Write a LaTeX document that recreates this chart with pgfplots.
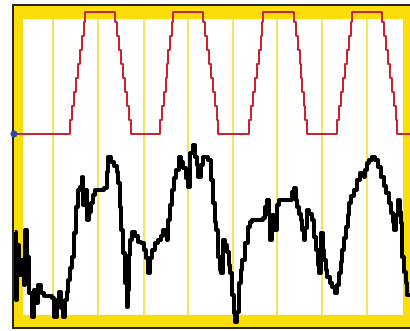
\documentclass[border=0pt]{standalone}
\usepackage{pgfplots}
\pgfplotsset{compat=1.18}
\definecolor{yel}{RGB}{250,222,10}
\definecolor{gridyel}{RGB}{245,228,95}
\definecolor{trred}{RGB}{205,34,44}
\definecolor{dotblue}{RGB}{40,70,170}
\begin{document}
\begin{tikzpicture}
\begin{axis}[at={(0,0)},anchor=south west, scale only axis, width=410pt, height=331pt,
  xmin=0,xmax=410,ymin=0,ymax=331, y dir=reverse, hide axis, clip=true, clip bounding box=upper bound]
\fill[white] (axis cs:0,0) rectangle (axis cs:410,331);
\pgfplotsinvokeforeach{53,98,144,188,233,277,322,367}{\draw[gridyel, line width=2pt] (axis cs:#1,6) -- (axis cs:#1,327);}
\fill[yel, even odd rule] (axis cs:13,5) rectangle (axis cs:415,328) (axis cs:23,19) rectangle (axis cs:403,315);
\draw[black!85, line width=1.5pt] (axis cs:415,5) -- (axis cs:13,5) -- (axis cs:13,328) -- (axis cs:415,328);
\addplot[trred, line width=2.8pt, const plot, line join=round] coordinates {
(14,134)(68,134)(70,120)(72,106)(74,92)(76,78)(78,64)(80,50)(82,36)(84,22)(85,12)(113,12)(115,22)(117,36)(119,50)(121,64)(123,78)(125,92)(127,106)(129,120)(131,134)(158,134)(160,120)(162,106)(164,92)(166,78)(167,64)(168,50)(170,36)(172,22)(173,12)(201,12)(203,22)(205,36)(207,50)(209,64)(211,78)(213,92)(215,106)(217,120)(218,134)(247,134)(249,120)(251,106)(253,92)(255,78)(257,64)(259,50)(261,36)(262,22)(263,12)(292,12)(294,22)(296,36)(298,50)(300,64)(301,78)(302,92)(304,106)(305,120)(307,134)(335,134)(337,120)(339,106)(341,92)(343,78)(345,64)(347,50)(349,36)(351,22)(352,12)(380,12)(382,22)(384,36)(386,50)(388,64)(390,78)(392,92)(394,106)(396,120)(397,134)(410,134)
};
\addplot[black, line width=3.3pt, const plot, line join=round] coordinates {
(15,232)(16,300)(17,245)(19,275)(21,260)(24,285)(25,230)(27,257)(29,293)(32,317)(34,290)(36,303)(38,285)(41,293)(44,296)(48,296)(52,298)(54,317)(57,300)(59,292)(61,308)(63,317)(65,300)(67,292)(68,280)(70,268)(72,257)(74,233)(76,207)(78,190)(80,187)(82,177)(83,205)(85,190)(87,220)(89,212)(91,203)(93,195)(95,190)(100,190)(104,188)(107,172)(108,157)(111,162)(114,166)(117,172)(118,183)(120,207)(121,230)(123,253)(125,283)(127,307)(128,290)(129,255)(130,240)(132,232)(135,236)(138,242)(141,243)(144,250)(146,258)(148,273)(150,258)(152,250)(155,243)(158,240)(161,236)(163,230)(165,233)(167,240)(168,220)(170,205)(172,190)(174,178)(176,170)(179,157)(181,162)(183,168)(186,178)(188,187)(190,153)(193,145)(195,157)(197,165)(198,177)(201,165)(203,157)(206,157)(208,160)(211,180)(213,203)(215,222)(216,230)(218,257)(220,270)(221,273)(223,240)(225,245)(227,252)(229,265)(230,273)(232,295)(234,313)(235,322)(237,312)(239,283)(241,270)(242,260)(245,243)(248,227)(250,222)(252,220)(258,220)(263,218)(265,207)(267,200)(269,215)(270,240)(272,215)(274,230)(277,205)(279,200)(284,200)(289,200)(292,192)(294,188)(296,200)(297,207)(299,214)(301,220)(302,230)(304,240)(305,228)(307,210)(309,214)(312,220)(314,237)(316,250)(318,265)(319,273)(321,233)(323,250)(324,260)(326,270)(327,277)(330,283)(332,287)(335,293)(337,285)(339,273)(341,262)(342,250)(344,238)(346,227)(348,215)(349,203)(351,196)(354,190)(357,180)(360,173)(362,175)(364,177)(365,170)(367,163)(369,160)(372,157)(375,160)(378,167)(381,177)(384,186)(386,193)(389,203)(391,213)(393,222)(394,230)(396,215)(398,200)(400,212)(401,223)(402,257)(404,272)(406,283)(407,295)(410,295)
};
\addplot[only marks, mark=*, mark size=3.3pt, dotblue] coordinates {(14,134)};
\end{axis}
\end{tikzpicture}
\end{document}
